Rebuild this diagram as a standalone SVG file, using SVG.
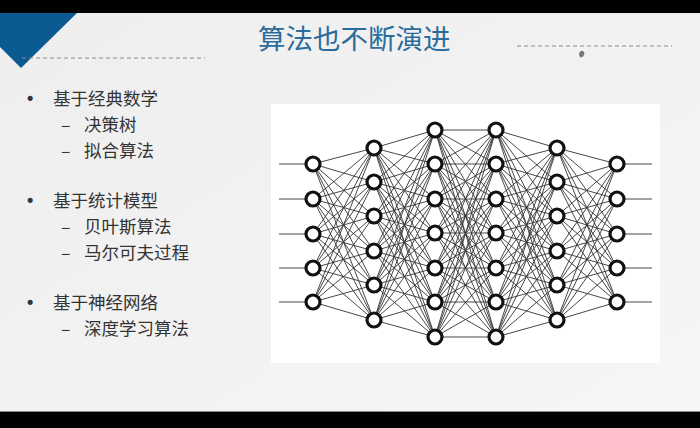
<svg xmlns="http://www.w3.org/2000/svg" width="700" height="428" viewBox="0 0 700 428">
<defs>
<linearGradient id="bg" x1="0" y1="0" x2="1" y2="1">
<stop offset="0" stop-color="#eeeeee"/>
<stop offset="1" stop-color="#f6f6f6"/>
</linearGradient>
<style>
.t{font-family:"Noto Sans CJK SC","Noto Sans",sans-serif;fill:#333;font-size:17.5px}
.b{font-family:"Liberation Sans",sans-serif;fill:#333;font-size:18px;font-weight:bold}
.title{font-family:"Noto Sans CJK SC","Noto Sans",sans-serif;fill:#2a6c9c;font-size:27.5px}
.e{stroke:#333;stroke-width:0.9;fill:none}
.n circle{fill:#fff;stroke:#111;stroke-width:3.2}
.dash{stroke:#8a8a8a;stroke-width:1;stroke-dasharray:4 3}
</style>
</defs>
<rect x="0" y="0" width="700" height="428" fill="url(#bg)"/>
<rect x="0" y="0" width="700" height="13" fill="#000"/>
<rect x="0" y="411" width="700" height="1" fill="#8c8c8c"/>
<rect x="0" y="412" width="700" height="16" fill="#000"/>
<polygon points="0,13 77,13 21,68 0,47" fill="#0b5a92"/>
<line class="dash" x1="22" y1="58" x2="205" y2="58"/>
<line class="dash" x1="517" y1="46" x2="672" y2="46"/>
<path d="M580 57 q-2 -3 0 -5 q1 -2 3 -1 q2 1 1 4 q-1 3 -4 2z" fill="#777"/>
<text class="title" x="258" y="49">算法也不断演进</text>
<g id="list">
<text class="b" x="27" y="104">•</text>
<text class="t" x="53" y="104.5">基于经典数学</text>
<text class="t" x="61" y="130.5">–</text>
<text class="t" x="84" y="130.5">决策树</text>
<text class="t" x="61" y="156.5">–</text>
<text class="t" x="84" y="156.5">拟合算法</text>
<text class="b" x="27" y="206">•</text>
<text class="t" x="53" y="206.5">基于统计模型</text>
<text class="t" x="61" y="232.5">–</text>
<text class="t" x="84" y="232.5">贝叶斯算法</text>
<text class="t" x="61" y="258.5">–</text>
<text class="t" x="84" y="258.5">马尔可夫过程</text>
<text class="b" x="27" y="308">•</text>
<text class="t" x="53" y="308.5">基于神经网络</text>
<text class="t" x="61" y="334.5">–</text>
<text class="t" x="84" y="334.5">深度学习算法</text>
</g>
<rect x="271" y="104" width="389" height="259" fill="#fff"/>
<g id="connectors">
<path class="e" d="M279 164H313M279 199H313M279 234H313M279 268H313M279 302H313M617 164H652M617 199H652M617 234H652M617 268H652M617 302H652"/>
<path class="e" d="M313 164L374 148M313 164L374 182M313 164L374 216M313 164L374 251M313 164L374 285M313 164L374 320
M313 199L374 148M313 199L374 182M313 199L374 216M313 199L374 251M313 199L374 285M313 199L374 320
M313 234L374 148M313 234L374 182M313 234L374 216M313 234L374 251M313 234L374 285M313 234L374 320
M313 268L374 148M313 268L374 182M313 268L374 216M313 268L374 251M313 268L374 285M313 268L374 320
M313 302L374 148M313 302L374 182M313 302L374 216M313 302L374 251M313 302L374 285M313 302L374 320"/>
<path class="e" d="M374 148L435 130M374 148L435 164M374 148L435 199M374 148L435 233M374 148L435 268M374 148L435 302M374 148L435 337
M374 182L435 130M374 182L435 164M374 182L435 199M374 182L435 233M374 182L435 268M374 182L435 302M374 182L435 337
M374 216L435 130M374 216L435 164M374 216L435 199M374 216L435 233M374 216L435 268M374 216L435 302M374 216L435 337
M374 251L435 130M374 251L435 164M374 251L435 199M374 251L435 233M374 251L435 268M374 251L435 302M374 251L435 337
M374 285L435 130M374 285L435 164M374 285L435 199M374 285L435 233M374 285L435 268M374 285L435 302M374 285L435 337
M374 320L435 130M374 320L435 164M374 320L435 199M374 320L435 233M374 320L435 268M374 320L435 302M374 320L435 337"/>
<path class="e" d="M435 130L496 130M435 130L496 164M435 130L496 199M435 130L496 233M435 130L496 268M435 130L496 302M435 130L496 337
M435 164L496 130M435 164L496 164M435 164L496 199M435 164L496 233M435 164L496 268M435 164L496 302M435 164L496 337
M435 199L496 130M435 199L496 164M435 199L496 199M435 199L496 233M435 199L496 268M435 199L496 302M435 199L496 337
M435 233L496 130M435 233L496 164M435 233L496 199M435 233L496 233M435 233L496 268M435 233L496 302M435 233L496 337
M435 268L496 130M435 268L496 164M435 268L496 199M435 268L496 233M435 268L496 268M435 268L496 302M435 268L496 337
M435 302L496 130M435 302L496 164M435 302L496 199M435 302L496 233M435 302L496 268M435 302L496 302M435 302L496 337
M435 337L496 130M435 337L496 164M435 337L496 199M435 337L496 233M435 337L496 268M435 337L496 302M435 337L496 337"/>
<path class="e" d="M496 130L557 148M496 130L557 182M496 130L557 216M496 130L557 251M496 130L557 285M496 130L557 320
M496 164L557 148M496 164L557 182M496 164L557 216M496 164L557 251M496 164L557 285M496 164L557 320
M496 199L557 148M496 199L557 182M496 199L557 216M496 199L557 251M496 199L557 285M496 199L557 320
M496 233L557 148M496 233L557 182M496 233L557 216M496 233L557 251M496 233L557 285M496 233L557 320
M496 268L557 148M496 268L557 182M496 268L557 216M496 268L557 251M496 268L557 285M496 268L557 320
M496 302L557 148M496 302L557 182M496 302L557 216M496 302L557 251M496 302L557 285M496 302L557 320
M496 337L557 148M496 337L557 182M496 337L557 216M496 337L557 251M496 337L557 285M496 337L557 320"/>
<path class="e" d="M557 148L617 164M557 148L617 199M557 148L617 234M557 148L617 268M557 148L617 302
M557 182L617 164M557 182L617 199M557 182L617 234M557 182L617 268M557 182L617 302
M557 216L617 164M557 216L617 199M557 216L617 234M557 216L617 268M557 216L617 302
M557 251L617 164M557 251L617 199M557 251L617 234M557 251L617 268M557 251L617 302
M557 285L617 164M557 285L617 199M557 285L617 234M557 285L617 268M557 285L617 302
M557 320L617 164M557 320L617 199M557 320L617 234M557 320L617 268M557 320L617 302"/>
</g>
<g id="layer1" class="n">
<circle cx="313" cy="164" r="7"/><circle cx="313" cy="199" r="7"/><circle cx="313" cy="234" r="7"/><circle cx="313" cy="268" r="7"/><circle cx="313" cy="302" r="7"/>
</g>
<g id="layer2" class="n">
<circle cx="374" cy="148" r="7"/><circle cx="374" cy="182" r="7"/><circle cx="374" cy="216" r="7"/><circle cx="374" cy="251" r="7"/><circle cx="374" cy="285" r="7"/><circle cx="374" cy="320" r="7"/>
</g>
<g id="layer3" class="n">
<circle cx="435" cy="130" r="7"/><circle cx="435" cy="164" r="7"/><circle cx="435" cy="199" r="7"/><circle cx="435" cy="233" r="7"/><circle cx="435" cy="268" r="7"/><circle cx="435" cy="302" r="7"/><circle cx="435" cy="337" r="7"/>
</g>
<g id="layer4" class="n">
<circle cx="496" cy="130" r="7"/><circle cx="496" cy="164" r="7"/><circle cx="496" cy="199" r="7"/><circle cx="496" cy="233" r="7"/><circle cx="496" cy="268" r="7"/><circle cx="496" cy="302" r="7"/><circle cx="496" cy="337" r="7"/>
</g>
<g id="layer5" class="n">
<circle cx="557" cy="148" r="7"/><circle cx="557" cy="182" r="7"/><circle cx="557" cy="216" r="7"/><circle cx="557" cy="251" r="7"/><circle cx="557" cy="285" r="7"/><circle cx="557" cy="320" r="7"/>
</g>
<g id="layer6" class="n">
<circle cx="617" cy="164" r="7"/><circle cx="617" cy="199" r="7"/><circle cx="617" cy="234" r="7"/><circle cx="617" cy="268" r="7"/><circle cx="617" cy="302" r="7"/>
</g>
</svg>
